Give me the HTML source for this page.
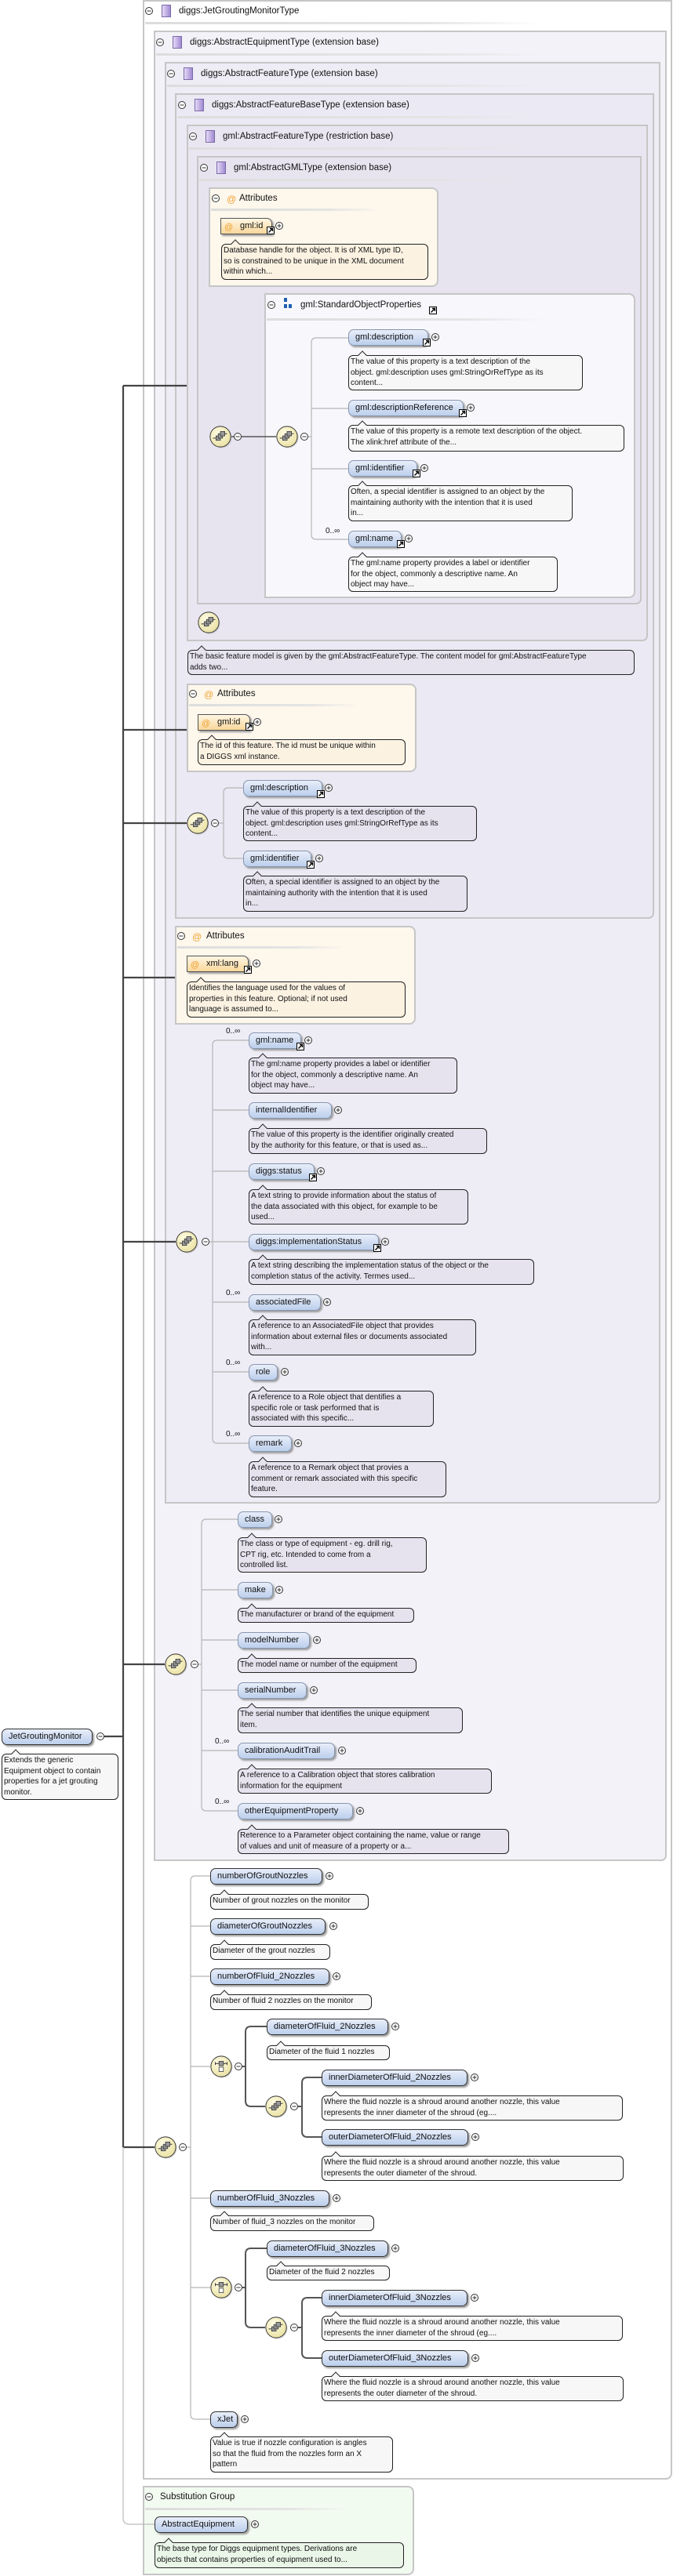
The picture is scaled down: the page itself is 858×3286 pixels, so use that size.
<!DOCTYPE html>
<html><head><meta charset="utf-8">
<style>
*{box-sizing:border-box;margin:0;padding:0}
body{width:858px;height:3286px;position:relative;background:#fff;font-family:"Liberation Sans",sans-serif;color:#111;overflow:hidden}
.b{position:absolute;border:2px solid #c6c6c6;border-radius:0 0 7px 0}
.t{position:absolute;font-size:11.5px;white-space:nowrap;line-height:14px}
.ul{position:absolute;height:3px;background:linear-gradient(90deg,#ddd,#e4e4e4 70%,rgba(230,230,230,0))}
.p{position:absolute;height:21px;border:1px solid #8796b0;border-radius:7px;background:linear-gradient(#e8eefa,#bccfec);box-shadow:2px 2px 2px #9a9a9a;font-size:11px;line-height:19px;padding-left:8px;white-space:nowrap}
.p.r{border:1.5px solid #333}
.p.a{background:linear-gradient(#fff6e4,#f9d79a);border-color:#555;border-radius:0 7px 0 0}
.d{position:absolute;border:1px solid #222;border-radius:6px;font-size:10px;line-height:13.5px;padding:1px 2px;white-space:nowrap;background:#e6e3ef}
.d::before{content:'';position:absolute;left:13px;top:-5px;width:7px;height:7px;background:inherit;border-left:1px solid #222;border-top:1px solid #222;transform:rotate(45deg)}
.d.w{background:#f7f7f7}.d.c{background:#fbf2e2}.d.g{background:#eaf6e8}
.m{position:absolute;font-size:10px;white-space:nowrap}
</style></head><body>

<!-- boxes -->
<div class="b" style="left:182px;top:0;width:675px;height:3163px;background:#fff;border-radius:0 0 8px 0"></div>
<div class="b" style="left:196px;top:39px;width:654px;height:2335px;background:#f3f2f8"></div>
<div class="b" style="left:210px;top:79px;width:632px;height:1839px;background:#eeecf5"></div>
<div class="b" style="left:223px;top:119px;width:611px;height:1053px;background:#ebe9f3"></div>
<div class="b" style="left:238px;top:159px;width:588px;height:659px;background:#e9e6f1"></div>
<div class="b" style="left:251px;top:199px;width:567px;height:572px;background:#e7e4f0"></div>
<div class="b" style="left:266px;top:239px;width:293px;height:127px;background:#fdf7ec;border-radius:0 8px 8px 0"></div>
<div class="b" style="left:337px;top:374px;width:473px;height:389px;background:#f8f8fc;border-radius:0 8px 8px 0"></div>
<div class="b" style="left:238px;top:872px;width:293px;height:113px;background:#fdf7ec;border-radius:0 8px 8px 0"></div>
<div class="b" style="left:223px;top:1181px;width:307px;height:126px;background:#fdf7ec;border-radius:0 8px 8px 0"></div>
<div class="b" style="left:182px;top:3171px;width:346px;height:114px;background:#f2fbf0;border-radius:0 8px 8px 0"></div>

<!-- headers -->
<div class="t" style="left:228px;top:7px">diggs:JetGroutingMonitorType</div><div class="ul" style="left:185px;top:28px;width:505px"></div>
<div class="t" style="left:242px;top:47px">diggs:AbstractEquipmentType (extension base)</div><div class="ul" style="left:199px;top:68px;width:490px"></div>
<div class="t" style="left:256px;top:87px">diggs:AbstractFeatureType (extension base)</div><div class="ul" style="left:213px;top:108px;width:475px"></div>
<div class="t" style="left:270px;top:127px">diggs:AbstractFeatureBaseType (extension base)</div><div class="ul" style="left:226px;top:148px;width:460px"></div>
<div class="t" style="left:284px;top:167px">gml:AbstractFeatureType (restriction base)</div><div class="ul" style="left:241px;top:188px;width:440px"></div>
<div class="t" style="left:298px;top:207px">gml:AbstractGMLType (extension base)</div><div class="ul" style="left:254px;top:228px;width:425px"></div>
<div class="t" style="left:305px;top:246px">Attributes</div><div class="ul" style="left:269px;top:266px;width:215px"></div>
<div class="t" style="left:383px;top:382px">gml:StandardObjectProperties</div><div class="ul" style="left:340px;top:406px;width:355px"></div>
<div class="t" style="left:277px;top:878px">Attributes</div><div class="ul" style="left:241px;top:898px;width:215px"></div>
<div class="t" style="left:263px;top:1187px">Attributes</div><div class="ul" style="left:226px;top:1207px;width:215px"></div>
<div class="t" style="left:204px;top:3178px">Substitution Group</div><div class="ul" style="left:185px;top:3199px;width:260px"></div>

<!-- Attr1 -->
<div class="p a" style="left:281px;top:278px;width:66px;padding-left:24px">gml:id</div>
<div class="d c" style="left:282px;top:311px;width:264px;height:46px">Database handle for the object. It is of XML type ID,<br>so is constrained to be unique in the XML document<br>within which...</div>

<!-- SOP -->
<div class="m" style="left:415px;top:672px">0..∞</div>
<div class="p" style="left:444px;top:420px;width:102px">gml:description</div>
<div class="d w" style="left:444px;top:453px;width:299px;height:45px">The value of this property is a text description of the<br>object. gml:description uses gml:StringOrRefType as its<br>content...</div>
<div class="p" style="left:444px;top:510px;width:147px">gml:descriptionReference</div>
<div class="d w" style="left:444px;top:542px;width:352px;height:34px">The value of this property is a remote text description of the object.<br>The xlink:href attribute of the...</div>
<div class="p" style="left:444px;top:587px;width:88px">gml:identifier</div>
<div class="d w" style="left:444px;top:619px;width:286px;height:46px">Often, a special identifier is assigned to an object by the<br>maintaining authority with the intention that it is used<br>in...</div>
<div class="p" style="left:444px;top:677px;width:68px">gml:name</div>
<div class="d w" style="left:444px;top:710px;width:267px;height:45px">The gml:name property provides a label or identifier<br>for the object, commonly a descriptive name. An<br>object may have...</div>

<div class="d" style="left:239px;top:829px;width:570px;height:32px">The basic feature model is given by the gml:AbstractFeatureType. The content model for gml:AbstractFeatureType<br>adds two...</div>

<!-- Attr2 -->
<div class="p a" style="left:252px;top:911px;width:67px;padding-left:24px">gml:id</div>
<div class="d c" style="left:252px;top:943px;width:265px;height:33px">The id of this feature. The id must be unique within<br>a DIGGS xml instance.</div>

<!-- FeatureBase -->
<div class="p" style="left:310px;top:995px;width:101px">gml:description</div>
<div class="d" style="left:310px;top:1028px;width:298px;height:45px">The value of this property is a text description of the<br>object. gml:description uses gml:StringOrRefType as its<br>content...</div>
<div class="p" style="left:310px;top:1085px;width:87px">gml:identifier</div>
<div class="d" style="left:310px;top:1117px;width:286px;height:46px">Often, a special identifier is assigned to an object by the<br>maintaining authority with the intention that it is used<br>in...</div>

<!-- Attr3 -->
<div class="p a" style="left:238px;top:1219px;width:79px;padding-left:24px">xml:lang</div>
<div class="d c" style="left:238px;top:1252px;width:279px;height:46px">Identifies the language used for the values of<br>properties in this feature. Optional; if not used<br>language is assumed to...</div>

<!-- FeatureType seq -->
<div class="m" style="left:288px;top:1310px">0..∞</div>
<div class="p" style="left:317px;top:1317px;width:67px">gml:name</div>
<div class="d" style="left:317px;top:1349px;width:266px;height:46px">The gml:name property provides a label or identifier<br>for the object, commonly a descriptive name. An<br>object may have...</div>
<div class="p" style="left:317px;top:1406px;width:106px">internalIdentifier</div>
<div class="d" style="left:317px;top:1439px;width:304px;height:33px">The value of this property is the identifier originally created<br>by the authority for this feature, or that is used as...</div>
<div class="p" style="left:317px;top:1484px;width:84px">diggs:status</div>
<div class="d" style="left:317px;top:1517px;width:280px;height:45px">A text string to provide information about the status of<br>the data associated with this object, for example to be<br>used...</div>
<div class="p" style="left:317px;top:1574px;width:166px">diggs:implementationStatus</div>
<div class="d" style="left:317px;top:1606px;width:364px;height:33px">A text string describing the implementation status of the object or the<br>completion status of the activity. Termes used...</div>
<div class="m" style="left:288px;top:1644px">0..∞</div>
<div class="p" style="left:317px;top:1651px;width:92px">associatedFile</div>
<div class="d" style="left:317px;top:1683px;width:290px;height:46px">A reference to an AssociatedFile object that provides<br>information about external files or documents associated<br>with...</div>
<div class="m" style="left:288px;top:1733px">0..∞</div>
<div class="p" style="left:317px;top:1740px;width:37px">role</div>
<div class="d" style="left:317px;top:1774px;width:236px;height:46px">A reference to a Role object that dentifies a<br>specific role or task performed that is<br>associated with this specific...</div>
<div class="m" style="left:288px;top:1824px">0..∞</div>
<div class="p" style="left:317px;top:1831px;width:55px">remark</div>
<div class="d" style="left:317px;top:1864px;width:252px;height:46px">A reference to a Remark object that provies a<br>comment or remark associated with this specific<br>feature.</div>

<!-- Equipment seq -->
<div class="p" style="left:303px;top:1928px;width:44px">class</div>
<div class="d" style="left:303px;top:1961px;width:241px;height:45px">The class or type of equipment - eg. drill rig,<br>CPT rig, etc. Intended to come from a<br>controlled list.</div>
<div class="p" style="left:303px;top:2018px;width:45px">make</div>
<div class="d" style="left:303px;top:2051px;width:225px;height:19px">The manufacturer or brand of the equipment</div>
<div class="p" style="left:303px;top:2082px;width:92px">modelNumber</div>
<div class="d" style="left:303px;top:2115px;width:228px;height:19px">The model name or number of the equipment</div>
<div class="p" style="left:303px;top:2146px;width:88px">serialNumber</div>
<div class="d" style="left:303px;top:2178px;width:287px;height:33px">The serial number that identifies the unique equipment<br>item.</div>
<div class="m" style="left:274px;top:2216px">0..∞</div>
<div class="p" style="left:303px;top:2223px;width:124px">calibrationAuditTrail</div>
<div class="d" style="left:303px;top:2256px;width:324px;height:32px">A reference to a Calibration object that stores calibration<br>information for the equipment</div>
<div class="m" style="left:274px;top:2293px">0..∞</div>
<div class="p" style="left:303px;top:2300px;width:147px">otherEquipmentProperty</div>
<div class="d" style="left:303px;top:2333px;width:346px;height:32px">Reference to a Parameter object containing the name, value or range<br>of values and unit of measure of a property or a...</div>

<!-- Jet -->
<div class="p r" style="left:2px;top:2205px;width:116px">JetGroutingMonitor</div>
<div class="d w" style="left:2px;top:2237px;width:149px;height:59px">Extends the generic<br>Equipment object to contain<br>properties for a jet grouting<br>monitor.</div>

<div class="p r" style="left:268px;top:2383px;width:143px">numberOfGroutNozzles</div>
<div class="d w" style="left:268px;top:2416px;width:202px;height:20px">Number of grout nozzles on the monitor</div>
<div class="p r" style="left:268px;top:2447px;width:147px">diameterOfGroutNozzles</div>
<div class="d w" style="left:268px;top:2480px;width:153px;height:20px">Diameter of the grout nozzles</div>
<div class="p r" style="left:268px;top:2511px;width:152px">numberOfFluid_2Nozzles</div>
<div class="d w" style="left:268px;top:2544px;width:206px;height:20px">Number of fluid 2 nozzles on the monitor</div>
<div class="p r" style="left:340px;top:2575px;width:155px">diameterOfFluid_2Nozzles</div>
<div class="d w" style="left:340px;top:2609px;width:157px;height:19px">Diameter of the fluid 1 nozzles</div>
<div class="p r" style="left:410px;top:2640px;width:186px">innerDiameterOfFluid_2Nozzles</div>
<div class="d w" style="left:410px;top:2673px;width:384px;height:32px">Where the fluid nozzle is a shroud around another nozzle, this value<br>represents the inner diameter of the shroud (eg....</div>
<div class="p r" style="left:410px;top:2716px;width:187px">outerDiameterOfFluid_2Nozzles</div>
<div class="d w" style="left:410px;top:2750px;width:385px;height:32px">Where the fluid nozzle is a shroud around another nozzle, this value<br>represents the outer diameter of the shroud.</div>
<div class="p r" style="left:268px;top:2794px;width:152px">numberOfFluid_3Nozzles</div>
<div class="d w" style="left:268px;top:2826px;width:209px;height:20px">Number of fluid_3 nozzles on the monitor</div>
<div class="p r" style="left:340px;top:2858px;width:155px">diameterOfFluid_3Nozzles</div>
<div class="d w" style="left:340px;top:2890px;width:157px;height:19px">Diameter of the fluid 2 nozzles</div>
<div class="p r" style="left:410px;top:2921px;width:186px">innerDiameterOfFluid_3Nozzles</div>
<div class="d w" style="left:410px;top:2954px;width:384px;height:32px">Where the fluid nozzle is a shroud around another nozzle, this value<br>represents the inner diameter of the shroud (eg....</div>
<div class="p r" style="left:410px;top:2998px;width:187px">outerDiameterOfFluid_3Nozzles</div>
<div class="d w" style="left:410px;top:3031px;width:385px;height:32px">Where the fluid nozzle is a shroud around another nozzle, this value<br>represents the outer diameter of the shroud.</div>
<div class="p r" style="left:268px;top:3076px;width:35px">xJet</div>
<div class="d w" style="left:268px;top:3108px;width:233px;height:46px">Value is true if nozzle configuration is angles<br>so that the fluid from the nozzles form an X<br>pattern</div>

<div class="p r" style="left:197px;top:3210px;width:119px">AbstractEquipment</div>
<div class="d g" style="left:197px;top:3243px;width:318px;height:33px">The base type for Diggs equipment types. Derivations are<br>objects that contains properties of equipment used to...</div>

<svg width="858" height="3286" style="position:absolute;left:0;top:0" xmlns="http://www.w3.org/2000/svg">
<defs>
<radialGradient id="yg" cx="40%" cy="35%" r="70%"><stop offset="0" stop-color="#fffde6"/><stop offset="1" stop-color="#e9e0a0"/></radialGradient>
<linearGradient id="pg" x1="0" x2="1"><stop offset="0" stop-color="#e9defa"/><stop offset="1" stop-color="#9d86cf"/></linearGradient>
<symbol id="seq" viewBox="-16 -16 32 32" overflow="visible"><circle cx="1.5" cy="1.5" r="14" fill="#aaa" opacity=".5"/><circle r="14" fill="url(#yg)" stroke="#333"/><path d="M-10 2H-6M4-4H9" stroke="#333"/><rect x="-6" y="-1" width="6" height="6" fill="#999" stroke="#333" stroke-width=".8"/><rect x="-3" y="-4" width="6" height="6" fill="#999" stroke="#333" stroke-width=".8"/><rect x="0" y="-7" width="6" height="6" fill="#999" stroke="#333" stroke-width=".8"/></symbol>
<symbol id="cho" viewBox="-16 -16 32 32" overflow="visible"><circle cx="1.5" cy="1.5" r="14" fill="#aaa" opacity=".5"/><circle r="14" fill="url(#yg)" stroke="#333"/><path d="M-8-4H8M-8-6V-2M8-6V-2" stroke="#333"/><rect x="-3" y="-7" width="6" height="6" fill="#999" stroke="#333" stroke-width=".8"/><rect x="-3" y="1" width="6" height="6" fill="#fff" stroke="#333" stroke-width=".8"/></symbol>
<symbol id="mi" viewBox="-5 -5 10 10" overflow="visible"><circle r="4.5" fill="#fff" stroke="#333"/><path d="M-2.5 0H2.5" stroke="#333"/></symbol>
<symbol id="pl" viewBox="-5 -5 10 10" overflow="visible"><circle r="4.5" fill="#fff" stroke="#333"/><path d="M-2.5 0H2.5M0-2.5V2.5" stroke="#333"/></symbol>
<symbol id="lk" viewBox="0 0 10 10" overflow="visible"><rect x=".5" y=".5" width="9" height="9" fill="#fff" stroke="#000"/><path d="M2.5 7.5L7 3M4 2.5H7.5V6" stroke="#000" stroke-width="1.4" fill="none"/></symbol>
<symbol id="ti" viewBox="0 0 12 16" overflow="visible"><rect x=".5" y=".5" width="11" height="15" fill="url(#pg)" stroke="#7a6aa8"/></symbol>
</defs>
<g fill="none">
<!-- main dark -->
<path d="M133 2215H157M157 492V2739M157 492H238M157 931H238M157 1050H238M157 1247H223M157 1584H224M157 2123H210M157 2739H197" stroke="#444" stroke-width="2.2"/>
<path d="M157 2739V3212Q157 3220 165 3220H197" stroke="#bbb" stroke-width="1.2"/>
<path d="M295 557H352" stroke="#555" stroke-width="1.5"/>
<!-- grey groups -->
<g stroke="#b5b5b5" stroke-width="1.2">
<path d="M444 431H403Q397 431 397 437V682Q397 688 403 688H444M397 521H444M397 598H444M393 557H397"/>
<path d="M310 1005H291Q285 1005 285 1011V1089Q285 1095 291 1095H310M279 1050H285"/>
<path d="M317 1327H277Q271 1327 271 1333V1835Q271 1841 277 1841H317M271 1416H317M271 1494H317M271 1584H317M271 1661H317M271 1750H317M267 1584H271"/>
<path d="M303 1938H263Q257 1938 257 1944V2304Q257 2310 263 2310H303M257 2028H303M257 2092H303M257 2156H303M257 2233H303M253 2123H257"/>
<path d="M268 2393H249Q243 2393 243 2399V3080Q243 3086 249 3086H268M243 2457H268M243 2521H268M243 2636H268M243 2804H268M243 2918H268M238 2739H243"/>
</g>
<g stroke="#555" stroke-width="2">
<path d="M340 2585H320Q313 2585 313 2592V2680Q313 2687 320 2687H338M309 2636H313"/>
<path d="M410 2650H392Q385 2650 385 2657V2719Q385 2726 392 2726H410M380 2687H385"/>
<path d="M340 2868H320Q313 2868 313 2875V2962Q313 2969 320 2969H338M309 2918H313"/>
<path d="M410 2931H392Q385 2931 385 2938V3001Q385 3008 392 3008H410M380 2969H385"/>
</g>
</g>
<!-- header icons -->
<use href="#mi" x="185" y="9" width="10" height="10"/><use href="#ti" x="206" y="6" width="12" height="16"/>
<use href="#mi" x="199" y="49" width="10" height="10"/><use href="#ti" x="220" y="46" width="12" height="16"/>
<use href="#mi" x="213" y="89" width="10" height="10"/><use href="#ti" x="234" y="86" width="12" height="16"/>
<use href="#mi" x="227" y="129" width="10" height="10"/><use href="#ti" x="248" y="126" width="12" height="16"/>
<use href="#mi" x="241" y="169" width="10" height="10"/><use href="#ti" x="262" y="166" width="12" height="16"/>
<use href="#mi" x="255" y="209" width="10" height="10"/><use href="#ti" x="276" y="206" width="12" height="16"/>
<use href="#mi" x="270" y="248" width="10" height="10"/><text x="289" y="258" font-size="12" fill="#f0a030" font-family="Liberation Sans">@</text>
<use href="#mi" x="241" y="880" width="10" height="10"/><text x="260" y="890" font-size="12" fill="#f0a030" font-family="Liberation Sans">@</text>
<use href="#mi" x="226" y="1189" width="10" height="10"/><text x="245" y="1199" font-size="12" fill="#f0a030" font-family="Liberation Sans">@</text>
<use href="#mi" x="185" y="3180" width="10" height="10"/>
<use href="#mi" x="341" y="384" width="10" height="10"/>
<rect x="362" y="380" width="4" height="5" fill="#1f5fb0"/><rect x="362" y="388" width="4" height="5" fill="#1f5fb0"/><rect x="368" y="388" width="4" height="5" fill="#1f5fb0"/>
<use href="#lk" x="547" y="391" width="10" height="10"/>
<!-- attr @ in pills -->
<text x="286" y="293" font-size="11" fill="#f0a030" font-family="Liberation Sans">@</text>
<text x="257" y="926" font-size="11" fill="#f0a030" font-family="Liberation Sans">@</text>
<text x="243" y="1234" font-size="11" fill="#f0a030" font-family="Liberation Sans">@</text>
<!-- seq / choice icons -->
<use href="#seq" x="266" y="542" width="30" height="30"/><use href="#mi" x="298" y="552" width="10" height="10"/>
<use href="#seq" x="351" y="542" width="30" height="30"/><use href="#mi" x="383" y="552" width="10" height="10"/>
<use href="#seq" x="251" y="779" width="30" height="30"/>
<use href="#seq" x="237" y="1035" width="30" height="30"/><use href="#mi" x="269" y="1045" width="10" height="10"/>
<use href="#seq" x="223" y="1569" width="30" height="30"/><use href="#mi" x="257" y="1579" width="10" height="10"/>
<use href="#seq" x="209" y="2108" width="30" height="30"/><use href="#mi" x="243" y="2118" width="10" height="10"/>
<use href="#seq" x="196" y="2724" width="30" height="30"/><use href="#mi" x="228" y="2734" width="10" height="10"/>
<use href="#cho" x="267" y="2621" width="30" height="30"/><use href="#mi" x="299" y="2631" width="10" height="10"/>
<use href="#seq" x="337" y="2672" width="30" height="30"/><use href="#mi" x="370" y="2682" width="10" height="10"/>
<use href="#cho" x="267" y="2903" width="30" height="30"/><use href="#mi" x="299" y="2913" width="10" height="10"/>
<use href="#seq" x="337" y="2954" width="30" height="30"/><use href="#mi" x="370" y="2964" width="10" height="10"/>
<use href="#mi" x="123" y="2210" width="10" height="10"/>
<!-- plus icons -->
<g>
<use href="#pl" x="351" y="283" width="10" height="10"/>
<use href="#pl" x="550" y="425" width="10" height="10"/><use href="#pl" x="595" y="515" width="10" height="10"/><use href="#pl" x="536" y="592" width="10" height="10"/><use href="#pl" x="516" y="682" width="10" height="10"/>
<use href="#pl" x="323" y="916" width="10" height="10"/>
<use href="#pl" x="414" y="1000" width="10" height="10"/><use href="#pl" x="402" y="1090" width="10" height="10"/>
<use href="#pl" x="322" y="1224" width="10" height="10"/>
<use href="#pl" x="388" y="1322" width="10" height="10"/><use href="#pl" x="426" y="1411" width="10" height="10"/><use href="#pl" x="404" y="1489" width="10" height="10"/><use href="#pl" x="486" y="1579" width="10" height="10"/><use href="#pl" x="412" y="1656" width="10" height="10"/><use href="#pl" x="358" y="1745" width="10" height="10"/><use href="#pl" x="375" y="1836" width="10" height="10"/>
<use href="#pl" x="350" y="1933" width="10" height="10"/><use href="#pl" x="351" y="2023" width="10" height="10"/><use href="#pl" x="399" y="2087" width="10" height="10"/><use href="#pl" x="395" y="2151" width="10" height="10"/><use href="#pl" x="431" y="2228" width="10" height="10"/><use href="#pl" x="454" y="2305" width="10" height="10"/>
<use href="#pl" x="415" y="2388" width="10" height="10"/><use href="#pl" x="420" y="2452" width="10" height="10"/><use href="#pl" x="424" y="2516" width="10" height="10"/><use href="#pl" x="499" y="2580" width="10" height="10"/><use href="#pl" x="600" y="2645" width="10" height="10"/><use href="#pl" x="601" y="2721" width="10" height="10"/>
<use href="#pl" x="424" y="2799" width="10" height="10"/><use href="#pl" x="499" y="2863" width="10" height="10"/><use href="#pl" x="600" y="2926" width="10" height="10"/><use href="#pl" x="601" y="3003" width="10" height="10"/><use href="#pl" x="307" y="3081" width="10" height="10"/>
<use href="#pl" x="320" y="3215" width="10" height="10"/>
</g>
<!-- link icons -->
<use href="#lk" x="340" y="289" width="10" height="10"/>
<use href="#lk" x="539" y="432" width="10" height="10"/><use href="#lk" x="585" y="522" width="10" height="10"/><use href="#lk" x="526" y="599" width="10" height="10"/><use href="#lk" x="506" y="689" width="10" height="10"/>
<use href="#lk" x="313" y="922" width="10" height="10"/>
<use href="#lk" x="404" y="1008" width="10" height="10"/><use href="#lk" x="391" y="1098" width="10" height="10"/>
<use href="#lk" x="311" y="1232" width="10" height="10"/>
<use href="#lk" x="378" y="1330" width="10" height="10"/><use href="#lk" x="394" y="1497" width="10" height="10"/><use href="#lk" x="476" y="1587" width="10" height="10"/>
</svg>
</body></html>
